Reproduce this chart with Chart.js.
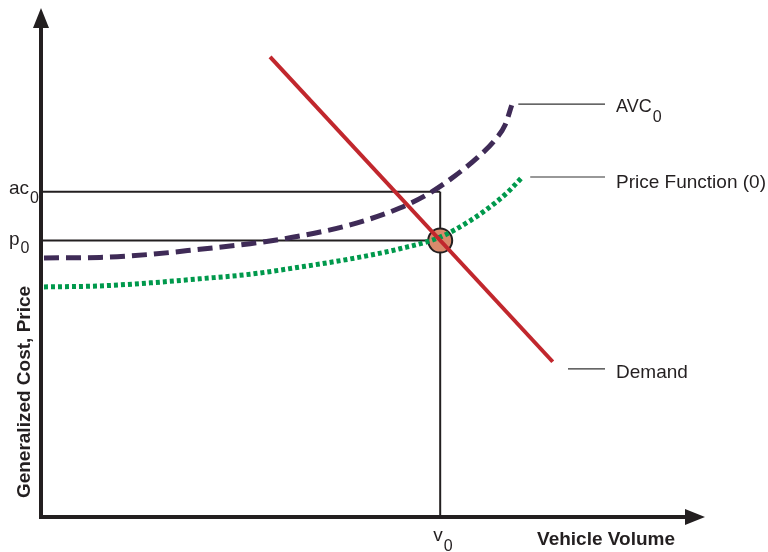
<!DOCTYPE html>
<html><head><meta charset="utf-8">
<script src="https://cdn.jsdelivr.net/npm/chart.js@4"></script>
<style>html,body{margin:0;padding:0;background:#fff}</style>
</head><body>
<canvas id="c" width="768" height="552"></canvas>
<script>
// Key levels
const v0 = 60.3, ac0 = 63.9, p0 = 54.3;
// Average variable cost curve (AVC0)
const avcX = [0.45, 8.9, 16.5, 24.0, 31.6, 39.1, 46.7, 54.2, 58.8, 62.5, 66.0, 68.6, 70.1, 71.1];
const avcY = [50.9, 51.0, 51.6, 52.6, 53.7, 55.2, 57.4, 60.7, 63.7, 67.0, 70.7, 74.1, 77.0, 80.9];
// Price function (0)
const priceX = [0.45, 8.9, 16.5, 24.0, 31.6, 39.1, 46.7, 54.2, 60.3, 64.8, 68.6, 70.8, 72.7];
const priceY = [45.2, 45.4, 46.0, 46.8, 47.7, 49.1, 50.7, 52.7, 55.0, 58.2, 61.7, 64.2, 66.8];
// Demand line
const demandX = [34.6, 77.3];
const demandY = [90.4, 30.5];
// Leader lines for labels
const labelNames = ['AVC', 'Price Function (0)', 'Demand'];
const leaderX0 = [72.1, 73.9, 79.6];
const leaderX1 = [85.2, 85.2, 85.2];
const leaderY = [81.1, 66.8, 29.1];

const zip = (xs, ys) => xs.map((x, i) => ({x, y: ys[i]}));
const INK = '#231f20';
const FONT = '"Liberation Sans", Arial, Helvetica, sans-serif';

const datasets = [
  {data: zip(demandX, demandY), borderColor: '#c1272d', borderWidth: 4, order: 1},
  {data: zip(priceX, priceY), borderColor: '#00994c', borderWidth: 5, borderDash: [4, 3], cubicInterpolationMode: 'monotone', order: 2},
  {data: zip(avcX, avcY), borderColor: '#3f2b57', borderWidth: 5, borderDash: [15, 7], cubicInterpolationMode: 'monotone', order: 3},
  {data: [{x: v0, y: p0}], showLine: false, pointRadius: 12, pointBackgroundColor: '#d98a6c', pointBorderColor: INK, pointBorderWidth: 2, order: 4},
  {data: [{x: 0, y: ac0}, {x: v0, y: ac0}], borderColor: INK, borderWidth: 2, order: 5},
  {data: [{x: 0, y: p0}, {x: v0, y: p0}], borderColor: INK, borderWidth: 2, order: 5},
  {data: [{x: v0, y: 0}, {x: v0, y: ac0}], borderColor: INK, borderWidth: 2, order: 5},
];
leaderY.forEach((y, i) => datasets.push({data: [{x: leaderX0[i], y}, {x: leaderX1[i], y}], borderColor: '#333', borderWidth: 1.2, order: 6}));
datasets.forEach(d => { if (d.pointRadius === undefined) d.pointRadius = 0; if (d.showLine === undefined) d.showLine = true; d.borderCapStyle = 'butt'; });

function sub(ctx, main, s, x, y, size, ssize, drop) {
  ctx.textAlign = 'left'; ctx.textBaseline = 'alphabetic';
  ctx.font = size + 'px ' + FONT;
  const w = ctx.measureText(main).width;
  ctx.fillText(main, x, y);
  ctx.font = ssize + 'px ' + FONT;
  ctx.fillText(s, x + w + 1, y + drop);
}

const overlay = {
  id: 'overlay',
  afterDraw(chart) {
    const ctx = chart.ctx, xs = chart.scales.x, ys = chart.scales.y;
    const ca = chart.chartArea;
    ctx.save();
    ctx.fillStyle = INK; ctx.strokeStyle = INK; ctx.lineWidth = 4;
    // y axis
    ctx.beginPath(); ctx.moveTo(ca.left, ca.bottom + 2); ctx.lineTo(ca.left, ca.top + 18); ctx.stroke();
    ctx.beginPath(); ctx.moveTo(ca.left, ca.top); ctx.lineTo(ca.left - 8, ca.top + 20); ctx.lineTo(ca.left + 8, ca.top + 20); ctx.closePath(); ctx.fill();
    // x axis
    ctx.beginPath(); ctx.moveTo(ca.left - 2, ca.bottom); ctx.lineTo(ca.right - 18, ca.bottom); ctx.stroke();
    ctx.beginPath(); ctx.moveTo(ca.right, ca.bottom); ctx.lineTo(ca.right - 20, ca.bottom - 8); ctx.lineTo(ca.right - 20, ca.bottom + 8); ctx.closePath(); ctx.fill();
    // tick labels
    sub(ctx, 'ac', '0', ca.left - 32, ys.getPixelForValue(ac0) + 2, 19, 16, 9);
    sub(ctx, 'p', '0', ca.left - 32, ys.getPixelForValue(p0) + 4, 19, 16, 8);
    sub(ctx, 'v', '0', xs.getPixelForValue(v0) - 7, ca.bottom + 24, 19, 16, 10);
    // curve labels
    const lx = xs.getPixelForValue(leaderX1[0]) + 11;
    sub(ctx, labelNames[0], '0', lx, ys.getPixelForValue(leaderY[0]) + 8, 18, 16, 10);
    ctx.font = '19px ' + FONT; ctx.textAlign = 'left'; ctx.textBaseline = 'alphabetic';
    ctx.fillText(labelNames[1], lx, ys.getPixelForValue(leaderY[1]) + 11);
    ctx.fillText(labelNames[2], lx, ys.getPixelForValue(leaderY[2]) + 9);
    // axis titles
    ctx.font = 'bold 19px ' + FONT; ctx.textAlign = 'right'; ctx.textBaseline = 'alphabetic';
    ctx.fillText('Vehicle Volume', 675, ca.bottom + 28);
    ctx.translate(30, 392); ctx.rotate(-Math.PI / 2);
    ctx.textAlign = 'center';
    ctx.fillText('Generalized Cost, Price', 0, 0);
    ctx.restore();
  }
};

new Chart(document.getElementById('c'), {
  type: 'scatter',
  data: {datasets},
  options: {
    responsive: false, animation: false, devicePixelRatio: 1,
    layout: {autoPadding: false, padding: {left: 41, right: 63, top: 8, bottom: 35}},
    plugins: {legend: {display: false}, tooltip: {enabled: false}},
    scales: {
      x: {type: 'linear', min: 0, max: 100.3, display: false},
      y: {type: 'linear', min: 0, max: 100, display: false}
    }
  },
  plugins: [overlay]
});
</script>
</body></html>
